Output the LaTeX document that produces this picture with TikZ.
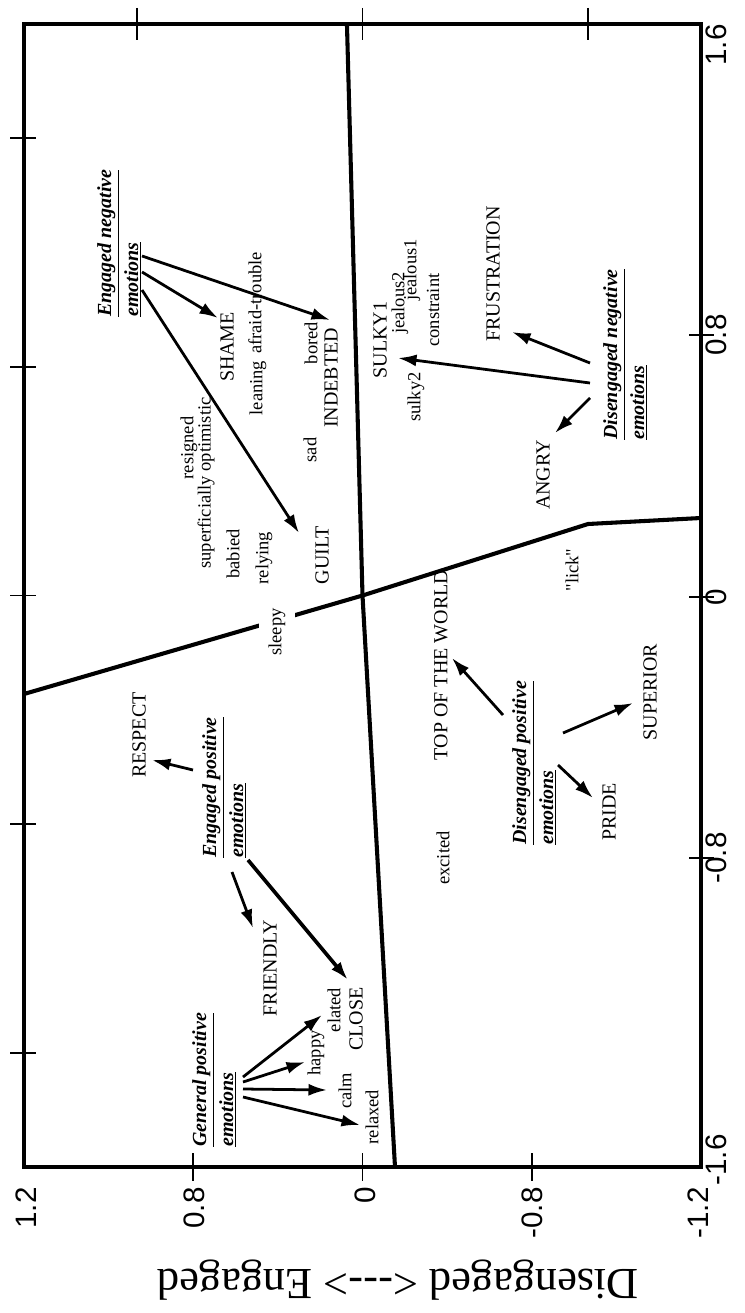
\documentclass[tikz,border=0pt]{standalone}
\usepackage{fontspec}
\setmainfont{Liberation Serif}
\setsansfont{Liberation Sans}
\usetikzlibrary{arrows.meta}

\tikzset{
  frame/.style={line width=2pt},
  divider/.style={line width=2.2pt},
  tick/.style={line width=1pt},
  ticklbl/.style={rotate=90, inner sep=0pt, font=\sffamily\fontsize{16}{16}\selectfont},
  word/.style={rotate=90, inner sep=1pt, font=\fontsize{10}{12}\selectfont},
  bigword/.style={word, font=\fontsize{10.8}{12}\selectfont},
  group/.style={rotate=90, anchor=north west, align=left, inner sep=0pt,
    font=\bfseries\itshape\fontsize{10.8}{14.5}\selectfont},
  arr/.style={-{Latex[length=10pt,width=6.5pt]}, line width=1.5pt},
}

\begin{document}
\begin{tikzpicture}[x=0.019cm, y=-0.019cm]
  \useasboundingbox (0,0) rectangle (744,1313);

  \draw[frame] (24,24) rectangle (701,1167);
  \foreach \y in {138.3,366.9,595.5,824.1,1052.7}
    \draw[tick] (10,\y) -- (36,\y);
  \foreach \x in {137,362.5,588}
    \draw[tick] (\x,8) -- (\x,40);
  \foreach \x in {193,362.5,532}
    \draw[tick] (\x,1153) -- (\x,1181);
  \foreach \y in {335,597,858}
    \draw[tick] (689,\y) -- (714,\y);

  \foreach \x/\t in {26/1.2,194/0.8,365/0,532/-0.8,698/-1.2}
    \node[ticklbl, anchor=east] at (\x,1187) {\t};
  \foreach \y/\t in {45/1.6,335/0.8,597/0,858/-0.8,1160/-1.6}
    \node[ticklbl, anchor=north] at (705,\y) {\t};
  \node[rotate=180, font=\fontsize{24}{24}\selectfont] (ylab) at (398,1280)
    {Disengaged {<}-{}-{}-{>} Engaged};

  \coordinate (origin) at (362.5,595.5);
  \draw[divider] (347,26) -- (origin) -- (395,1167);
  \draw[divider] (24,694) -- (origin) -- (588,524) -- (701,518);

  \node[word, fill=white, inner ysep=5pt] (sleepy) at (277,632) {sleepy};

  \node[bigword] (shame) at (227,347) {SHAME};
  \node[word] (afraid) at (255,303) {afraid-trouble};
  \node[word] (leaning) at (258,388) {leaning};
  \node[word] (bored) at (311,343) {bored};
  \node[bigword] (indebted) at (331,378) {INDEBTED};
  \node[word] (sad) at (310,450) {sad};
  \node[word] (resigned) at (189,448) {resigned};
  \node[word] (superopt) at (206,483) {superficially optimistic};
  \node[word] (babied) at (233,554) {babied};
  \node[word] (relying) at (264,558) {relying};
  \node[bigword] (guilt) at (322,555) {GUILT};
  \node[bigword] (tow) at (441,665) {TOP OF THE WORLD};
  \node[bigword] (respect) at (139,735) {RESPECT};
  \node[bigword] (friendly) at (270,968) {FRIENDLY};
  \node[bigword] (close) at (356,1019) {CLOSE};
  \node[word] (elated) at (334,1010) {elated};
  \node[word] (happy) at (316,1053) {happy};
  \node[word] (calm) at (345,1091) {calm};
  \node[word] (relaxed) at (372,1117) {relaxed};
  \node[word] (lick) at (572,570) {\addfontfeatures{Ligatures=TeXOff}"lick"};
  \node[bigword] (superior) at (650,692) {SUPERIOR};
  \node[bigword] (pride) at (609,812) {PRIDE};
  \node[word] (excited) at (443,858) {excited};
  \node[bigword] (sulkyA) at (380,340) {SULKY1};
  \node[word] (jealousB) at (400,303) {jealous2};
  \node[word] (jealousA) at (412,270) {jealous1};
  \node[word] (constraint) at (433,310) {constraint};
  \node[word] (sulkyB) at (416,397) {sulky2};
  \node[bigword] (frustration) at (493,274) {FRUSTRATION};
  \node[bigword] (angry) at (543,475) {ANGRY};

  \node[group] (engneg) at (97,317) {\underline{Engaged negative}\\\underline{emotions}};
  \node[group] (engpos) at (202,858) {\underline{Engaged positive}\\\underline{emotions}};
  \node[group] (genpos) at (192,1147) {\underline{General positive}\\\underline{emotions}};
  \node[group] (dispos) at (512,845) {\underline{Disengaged positive}\\\underline{emotions}};
  \node[group] (disneg) at (603,440) {\underline{Disengaged negative}\\\underline{emotions}};

  \coordinate (engneg-1) at (142,256);
  \coordinate (engneg-2) at (142,272);
  \coordinate (engneg-3) at (142,290);
  \coordinate (indebted-in) at (330,320);
  \coordinate (shame-in) at (218,318);
  \coordinate (guilt-in) at (299,533);
  \draw[arr] (engneg-1) -- (indebted-in);
  \draw[arr] (engneg-2) -- (shame-in);
  \draw[arr] (engneg-3) -- (guilt-in);

  \coordinate (engpos-1) at (193,770);
  \coordinate (engpos-2) at (232,872);
  \coordinate (engpos-3) at (248,860);
  \coordinate (respect-in) at (152,760);
  \coordinate (friendly-in) at (253,928);
  \coordinate (close-in) at (348,980);
  \draw[arr] (engpos-1) -- (respect-in);
  \draw[arr] (engpos-2) -- (friendly-in);
  \draw[arr, line width=2pt] (engpos-3) -- (close-in);

  \coordinate (genpos-1) at (243,1077);
  \coordinate (genpos-2) at (243,1082);
  \coordinate (genpos-3) at (243,1089);
  \coordinate (genpos-4) at (243,1097);
  \coordinate (elated-in) at (322,1015);
  \coordinate (happy-in) at (305,1062);
  \coordinate (calm-in) at (327,1090);
  \coordinate (relaxed-in) at (360,1125);
  \draw[arr] (genpos-1) -- (elated-in);
  \draw[arr] (genpos-2) -- (happy-in);
  \draw[arr] (genpos-3) -- (calm-in);
  \draw[arr] (genpos-4) -- (relaxed-in);

  \coordinate (dispos-1) at (503,715);
  \coordinate (dispos-2) at (563,733);
  \coordinate (dispos-3) at (558,765);
  \coordinate (tow-in) at (452,658);
  \coordinate (superior-in) at (633,703);
  \coordinate (pride-in) at (593,798);
  \draw[arr] (dispos-1) -- (tow-in);
  \draw[arr] (dispos-2) -- (superior-in);
  \draw[arr] (dispos-3) -- (pride-in);

  \coordinate (disneg-1) at (590,363);
  \coordinate (disneg-2) at (590,383);
  \coordinate (disneg-3) at (590,398);
  \coordinate (frustration-in) at (512,332);
  \coordinate (sulky-in) at (398,358);
  \coordinate (angry-in) at (555,433);
  \draw[arr] (disneg-1) -- (frustration-in);
  \draw[arr] (disneg-2) -- (sulky-in);
  \draw[arr] (disneg-3) -- (angry-in);
\end{tikzpicture}
\end{document}
